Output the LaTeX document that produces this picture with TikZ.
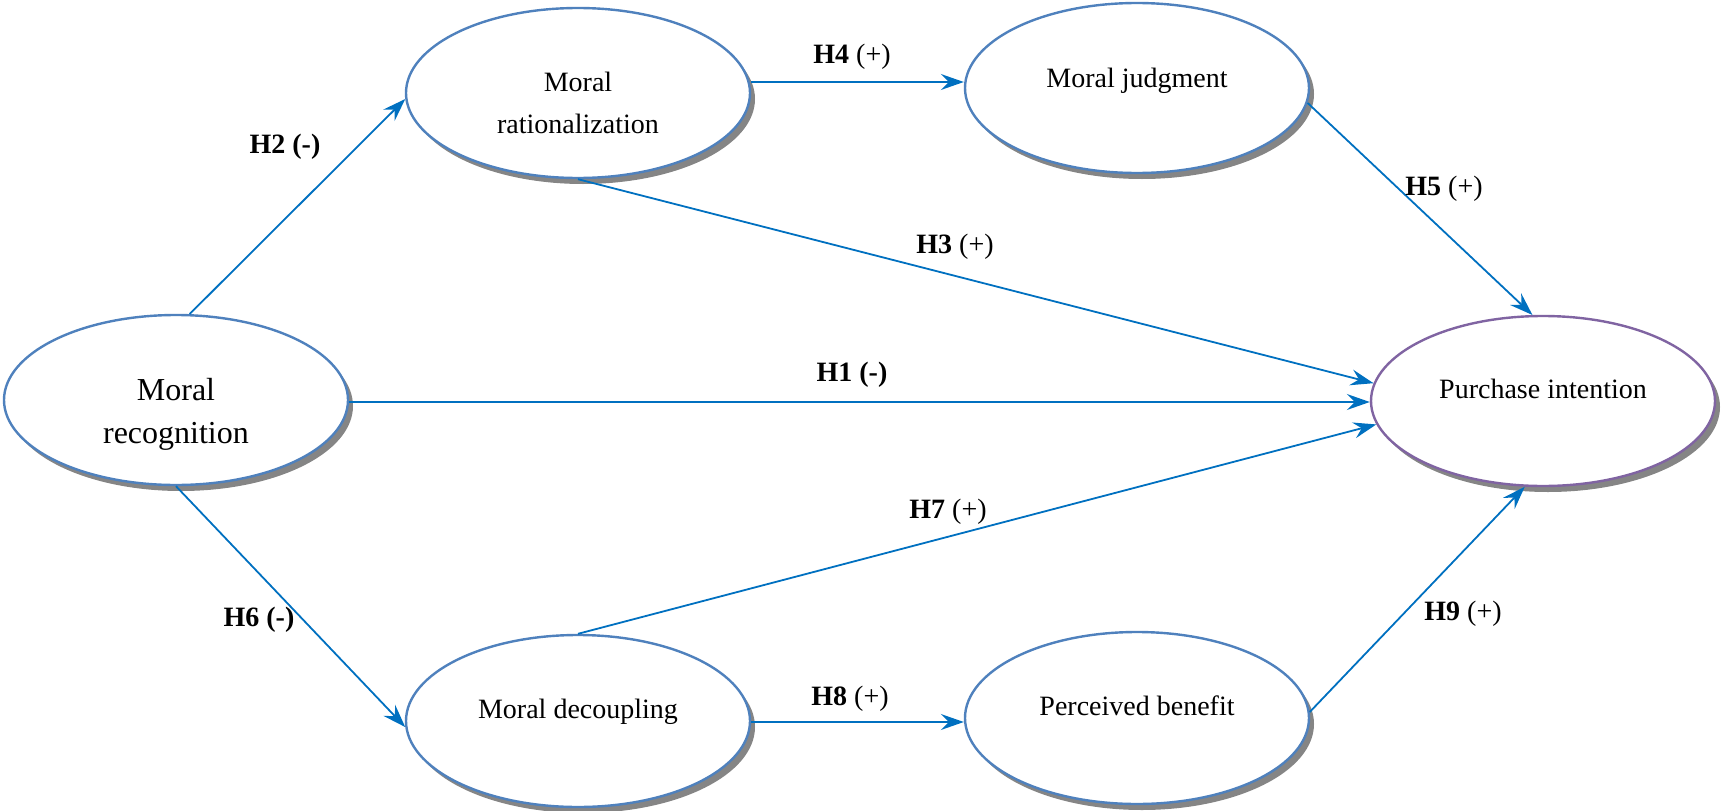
\documentclass[tikz,border=0pt]{standalone}
\usepackage{fontspec}
\setmainfont{Liberation Serif}
\usetikzlibrary{shapes.geometric,arrows.meta,shadows}
\definecolor{arrowblue}{HTML}{0070C0}
\definecolor{ellblue}{HTML}{4F81BD}
\definecolor{ellpurple}{HTML}{8064A2}
\begin{document}
\begin{tikzpicture}[x=1pt,y=-1pt,
  ell/.style={ellipse, draw=ellblue, line width=2.4pt, fill=white,
    minimum width=344pt, minimum height=170pt, inner sep=0pt,
    drop shadow={shadow xshift=5pt, shadow yshift=-6pt, fill=black!48, opacity=1}},
  etext/.style={align=center, inner sep=0pt, font=\fontsize{28}{42}\selectfont},
  bigtext/.style={align=center, inner sep=0pt, font=\fontsize{32}{43}\selectfont},
  arr/.style={draw=arrowblue, line width=1.8pt, -{Stealth[length=23pt,width=16pt,inset=8pt]}},
  hlab/.style={inner sep=0pt, font=\fontsize{28}{34}\selectfont}
]
\useasboundingbox (0,0) rectangle (1722,811);

% ellipses
\node[ell] (rec) at (176,400) {};
\node[ell] (rat) at (578,93) {};
\node[ell] (jud) at (1137,88) {};
\node[ell, draw=ellpurple] (pi) at (1543,401) {};
\node[ell, minimum height=172pt] (dec) at (578,721) {};
\node[ell, minimum height=172pt] (ben) at (1137,718) {};

% texts
\node[bigtext, anchor=north] (rec-t) at (176,378) {Moral\\recognition};
\node[etext, anchor=north] (rat-t) at (578,72) {Moral\\rationalization};
\node[etext, anchor=base] (jud-t) at (1137,87) {Moral judgment};
\node[etext, anchor=base] (pi-t) at (1543,398) {Purchase intention};
\node[etext, anchor=base] (dec-t) at (578,718) {Moral decoupling};
\node[etext, anchor=base] (ben-t) at (1137,715) {Perceived benefit};

% connectors
\draw[arr] (rec.81) -- (rat.182);
\draw[arr] ([yshift=11pt]rat.east) -- ([yshift=11pt]rat.east -| jud.west);
\draw[arr] (rat.south) -- (pi.174);
\draw[arr] (jud.355) -- (pi.97);
\draw[arr] ([yshift=-2pt]rec.east) -- ([yshift=-2pt]rec.east -| pi.west);
\draw[arr] (dec.north) -- (pi.188);
\draw[arr] (rec.south) -- (dec.182);
\draw[arr] ([yshift=-1pt]dec.east) -- ([yshift=-1pt]dec.east -| ben.west);
\draw[arr] (ben.2) -- (pi.258);

% labels
\node[hlab] (l2) at (285,147) {\textbf{H2 (-)}};
\node[hlab] (l4) at (852,57) {\textbf{H4} (+)};
\node[hlab] (l3) at (955,247) {\textbf{H3} (+)};
\node[hlab] (l5) at (1444,189) {\textbf{H5} (+)};
\node[hlab] (l1) at (852,375) {\textbf{H1 (-)}};
\node[hlab] (l7) at (948,512) {\textbf{H7} (+)};
\node[hlab] (l6) at (259,620) {\textbf{H6 (-)}};
\node[hlab] (l8) at (850,699) {\textbf{H8} (+)};
\node[hlab] (l9) at (1463,614) {\textbf{H9} (+)};
\end{tikzpicture}
\end{document}
